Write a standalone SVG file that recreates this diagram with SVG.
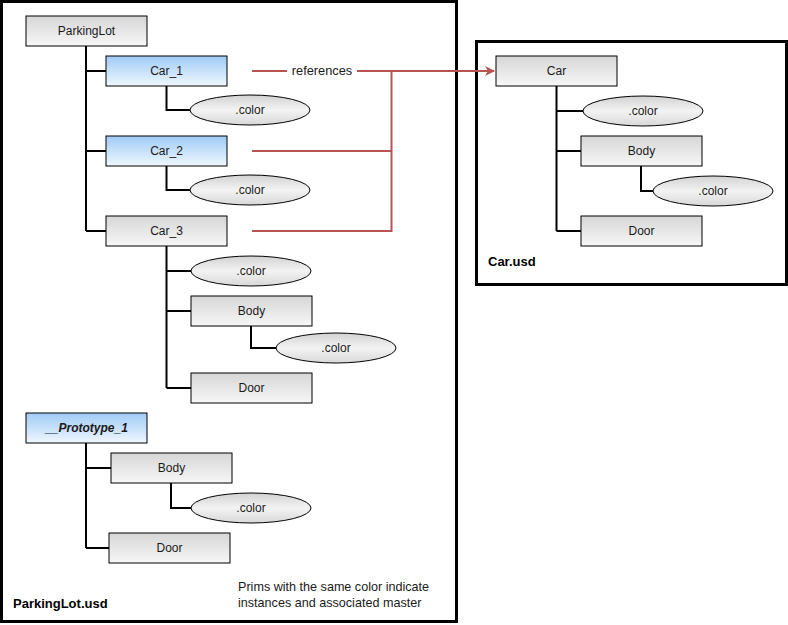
<svg xmlns="http://www.w3.org/2000/svg" width="788" height="625" viewBox="0 0 788 625">
<defs>
<linearGradient id="gGray" x1="0" y1="0" x2="0" y2="1">
<stop offset="0" stop-color="#d6d6d6"/><stop offset="1" stop-color="#f7f7f7"/>
</linearGradient>
<linearGradient id="gBlue" x1="0" y1="0" x2="0" y2="1">
<stop offset="0" stop-color="#9fcbf6"/><stop offset="1" stop-color="#f0f7ff"/>
</linearGradient>
<linearGradient id="gEll" x1="0" y1="0" x2="0" y2="1">
<stop offset="0" stop-color="#d2d2d2"/><stop offset="0.5" stop-color="#f3f3f3"/><stop offset="1" stop-color="#d8d8d8"/>
</linearGradient>
<marker id="arr" markerWidth="10" markerHeight="10" refX="9" refY="5" orient="auto" markerUnits="userSpaceOnUse">
<path d="M0,0 L10,5 L0,10 L3,5 Z" fill="#b85450"/>
</marker>
<style>
.frame{fill:#fff;stroke:#000;stroke-width:3}
.box{fill:url(#gGray);stroke:#000;stroke-width:1}
.blue{fill:url(#gBlue);stroke:#000;stroke-width:1}
.ell{fill:url(#gEll);stroke:#000;stroke-width:1}
.t{font-family:"Liberation Sans",Arial,sans-serif;font-size:12px;fill:#1a1a1a;text-anchor:middle;dominant-baseline:central}
.b{font-family:"Liberation Sans",Arial,sans-serif;font-size:13px;font-weight:bold;fill:#000}
.n{font-family:"Liberation Sans",Arial,sans-serif;font-size:12.6px;fill:#1a1a1a}
.tree{fill:none;stroke:#000;stroke-width:2}
.ref{fill:none;stroke:#b85450;stroke-width:2}
</style>
</defs>
<rect width="788" height="625" fill="#fff"/>
<g id="frame-parkinglot">
<rect class="frame" x="1.5" y="1.5" width="455" height="620"/>
<text class="b" x="13" y="608">ParkingLot.usd</text>
<text class="n" x="238" y="591">Prims with the same color indicate</text>
<text class="n" x="238" y="607">instances and associated master</text>
</g>
<g id="frame-car">
<rect class="frame" x="476.5" y="41.5" width="310" height="243"/>
<text class="b" x="488" y="266">Car.usd</text>
</g>
<g id="connectors">
<path class="tree" d="M86,46 V231 M86,71 H106 M86,151 H106 M86,231 H106"/>
<path class="tree" d="M166.5,86 V110 H190 M166.5,166 V190 H190"/>
<path class="tree" d="M166.5,246 V388 M166.5,271 H191 M166.5,311 H191 M166.5,388 H191"/>
<path class="tree" d="M251,326 V348 H276"/>
<path class="tree" d="M86,443 V548 M86,468 H111 M86,548 H109"/>
<path class="tree" d="M171,483 V508 H191"/>
<path class="tree" d="M556.5,86 V231 M556.5,111 H583 M556.5,151 H581 M556.5,231 H581"/>
<path class="tree" d="M641,166 V191 H653"/>
<path class="ref" d="M252,71 H287 M357,71 H494" marker-end="url(#arr)"/>
<path class="ref" d="M252,151 H391.5 M252,231 H391.5 V71"/>
<text class="t" x="322" y="70" style="font-size:12.8px">references</text>
</g>
<g id="n-parkinglot"><rect class="box" x="26" y="16" width="121" height="30"/><text class="t" x="86.5" y="30.5">ParkingLot</text></g>
<g id="n-car1"><rect class="blue" x="106" y="56" width="121" height="30"/><text class="t" x="166.5" y="70.5">Car_1</text></g>
<g id="n-car1-color"><ellipse class="ell" cx="250" cy="110" rx="60" ry="15"/><text class="t" x="250" y="110">.color</text></g>
<g id="n-car2"><rect class="blue" x="106" y="136" width="121" height="30"/><text class="t" x="166.5" y="150.5">Car_2</text></g>
<g id="n-car2-color"><ellipse class="ell" cx="250" cy="190" rx="60" ry="15"/><text class="t" x="250" y="190">.color</text></g>
<g id="n-car3"><rect class="box" x="106" y="216" width="121" height="30"/><text class="t" x="166.5" y="230.5">Car_3</text></g>
<g id="n-car3-color"><ellipse class="ell" cx="251" cy="271" rx="60" ry="15"/><text class="t" x="251" y="271">.color</text></g>
<g id="n-car3-body"><rect class="box" x="191" y="296" width="121" height="30"/><text class="t" x="251.5" y="310.5">Body</text></g>
<g id="n-car3-body-color"><ellipse class="ell" cx="336" cy="348" rx="60" ry="15"/><text class="t" x="336" y="348">.color</text></g>
<g id="n-car3-door"><rect class="box" x="191" y="373" width="121" height="30"/><text class="t" x="251.5" y="387.5">Door</text></g>
<g id="n-proto"><rect class="blue" x="26" y="413" width="121" height="30"/><text class="t" x="86.5" y="427.5" style="font-weight:bold;font-style:italic">__Prototype_1</text></g>
<g id="n-proto-body"><rect class="box" x="111" y="453" width="121" height="30"/><text class="t" x="171.5" y="467.5">Body</text></g>
<g id="n-proto-body-color"><ellipse class="ell" cx="251" cy="508" rx="60" ry="15"/><text class="t" x="251" y="508">.color</text></g>
<g id="n-proto-door"><rect class="box" x="109" y="533" width="121" height="30"/><text class="t" x="169.5" y="547.5">Door</text></g>
<g id="n-car"><rect class="box" x="496" y="56" width="121" height="30"/><text class="t" x="556.5" y="70.5">Car</text></g>
<g id="n-car-color"><ellipse class="ell" cx="643" cy="111" rx="60" ry="15"/><text class="t" x="643" y="111">.color</text></g>
<g id="n-car-body"><rect class="box" x="581" y="136" width="121" height="30"/><text class="t" x="641.5" y="150.5">Body</text></g>
<g id="n-car-body-color"><ellipse class="ell" cx="713" cy="191" rx="60" ry="15"/><text class="t" x="713" y="191">.color</text></g>
<g id="n-car-door"><rect class="box" x="581" y="216" width="121" height="30"/><text class="t" x="641.5" y="230.5">Door</text></g>
</svg>
